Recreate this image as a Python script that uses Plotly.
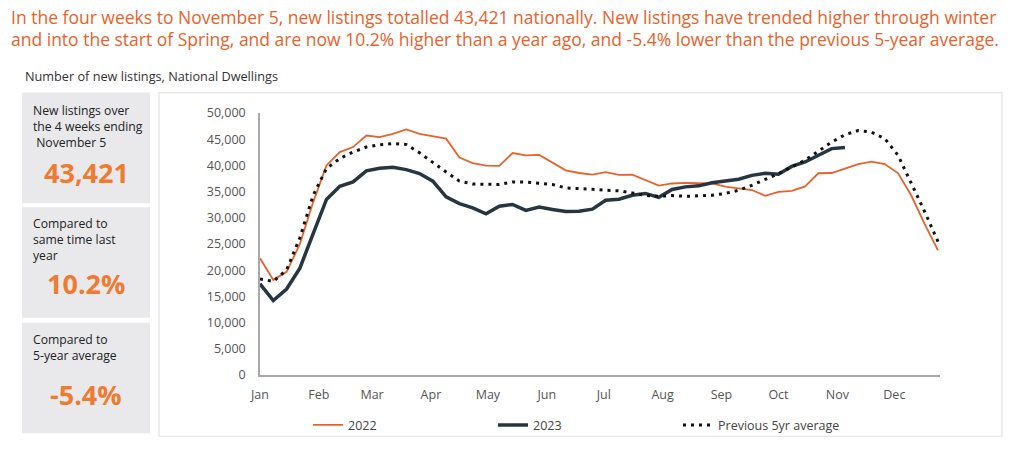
import plotly.graph_objects as go

months = ["Jan", "Feb", "Mar", "Apr", "May", "Jun", "Jul", "Aug", "Sep", "Oct", "Nov", "Dec"]
month_start_day = [0, 31, 59, 90, 120, 151, 181, 212, 243, 273, 304, 334]

v2022 = [22300, 18150, 19700, 25000, 33000, 40000, 42550, 43500, 45700, 45400, 46000, 46850,
         46000, 45600, 45100, 41500, 40450, 39950, 39900, 42350, 41900, 42000, 40500, 39050,
         38550, 38250, 38700, 38200, 38250, 37150, 36150, 36550, 36650, 36600, 36550, 35950,
         35600, 35300, 34200, 34950, 35150, 36000, 38500, 38550, 39400, 40250, 40700, 40250,
         38500, 34200, 28800, 23800]
v2023 = [17400, 14200, 16400, 20400, 27000, 33500, 36000, 36850, 38950, 39450, 39650, 39200,
         38450, 37000, 34000, 32700, 31900, 30750, 32200, 32550, 31400, 32050, 31600, 31200,
         31250, 31650, 33350, 33550, 34300, 34650, 33900, 35400, 35900, 36100, 36700, 37050,
         37350, 38100, 38500, 38300, 39800, 40650, 41900, 43200, 43421]
avg5 = [18350, 17850, 20050, 26200, 34300, 39400, 41300, 42550, 43500, 43950, 44150, 44000,
        42400, 40500, 38750, 37000, 36450, 36400, 36350, 36850, 36800, 36600, 36350, 35700,
        35600, 35450, 35250, 35150, 34750, 34300, 34100, 34250, 34100, 34250, 34300, 34650,
        35250, 36200, 37250, 38450, 39700, 41000, 42700, 44450, 45850, 46650, 46350, 45100,
        41900, 36550, 31150, 25450]

title_lines = ["In the four weeks to November 5, new listings totalled 43,421 nationally. New listings have trended higher through winter",
               "and into the start of Spring, and are now 10.2% higher than a year ago, and -5.4% lower than the previous 5-year average."]
subtitle = "Number of new listings, National Dwellings"
box_labels = ["New listings over<br>the 4 weeks ending<br>\u00a0November 5",
              "Compared to<br>same time last<br>year",
              "Compared to<br>5-year average"]
box_values = ["43,421", "10.2%", "-5.4%"]

W, H = 1024, 453
L, R, T, B = 260, 940, 112.5, 375.5
FONT = "Open Sans"
ORANGE = "#E8622C"
NUM_ORANGE = "#F07A30"
DARK = "#263640"

def fx(px):
    return (px - L) / (R - L)

def fy(py):
    return (B - py) / (B - T)

weeks = list(range(len(v2022)))
weeks23 = list(range(len(v2023)))

fig = go.Figure()
fig.add_trace(go.Scatter(x=weeks, y=v2022, mode="lines", name="2022",
                         line=dict(color=ORANGE, width=1.8)))
fig.add_trace(go.Scatter(x=weeks23, y=v2023, mode="lines", name="2023",
                         line=dict(color=DARK, width=3.5)))
fig.add_trace(go.Scatter(x=weeks, y=avg5, mode="lines", name="Previous 5yr average",
                         line=dict(color="#111111", width=3, dash="3px,5px")))

shapes = []
# chart frame
shapes.append(dict(type="rect", xref="paper", yref="paper", x0=fx(159), x1=fx(1002), y0=fy(437), y1=fy(92),
                   line=dict(color="#E2E2E2", width=1.2), fillcolor="rgba(0,0,0,0)", layer="below"))
boxes = [(92, 203), (207, 318), (323, 434)]
for (y0, y1) in boxes:
    shapes.append(dict(type="rect", xref="paper", yref="paper", x0=fx(22), x1=fx(150), y0=fy(y1), y1=fy(y0),
                       line=dict(width=0), fillcolor="#E9E9EC", layer="below"))

annotations = []
for line, ly in zip(title_lines, [16, 38]):
    annotations.append(dict(text=line, xref="paper", yref="paper",
                            x=fx(9), y=fy(ly), xanchor="left", yanchor="middle", align="left", showarrow=False,
                            font=dict(family=FONT, size=17.5, color=ORANGE)))
annotations.append(dict(text=subtitle, xref="paper", yref="paper", x=fx(23), y=fy(75), xanchor="left",
                        yanchor="middle", showarrow=False, font=dict(family=FONT, size=12.7, color="#333333")))
label_tops = [99, 213, 329]
value_ys = [172, 284, 395]
for lab, top, val, vy in zip(box_labels, label_tops, box_values, value_ys):
    annotations.append(dict(text=lab, xref="paper", yref="paper", x=fx(31), y=fy(top), xanchor="left",
                            yanchor="top", align="left", showarrow=False,
                            font=dict(family=FONT, size=12.2, color="#222222")))
    annotations.append(dict(text="<b>" + val + "</b>", xref="paper", yref="paper", x=fx(86), y=fy(vy),
                            xanchor="center", yanchor="middle", showarrow=False,
                            font=dict(family=FONT, size=27, color=NUM_ORANGE)))

fig.update_layout(
    width=W, height=H,
    margin=dict(l=L, r=W - R, t=T, b=H - B, pad=0),
    paper_bgcolor="white", plot_bgcolor="white",
    showlegend=True,
    legend=dict(orientation="h", x=fx(308), y=fy(426), xanchor="left", yanchor="middle",
                entrywidth=140, entrywidthmode="pixels",
                font=dict(family=FONT, size=12.5, color="#444444"), bgcolor="rgba(0,0,0,0)"),
    shapes=shapes, annotations=annotations,
    font=dict(family=FONT),
)
fig.update_xaxes(range=[0, 51.15], tickmode="array",
                 tickvals=[d / 7 for d in month_start_day], ticktext=months,
                 showgrid=False, zeroline=False, showline=True, linecolor="#A8A8A8", linewidth=1.5,
                 ticks="", ticklabelstandoff=7,
                 tickfont=dict(family=FONT, size=12.5, color="#555555"), fixedrange=True)
fig.update_yaxes(range=[0, 50000], tickmode="array", tickvals=list(range(0, 50001, 5000)),
                 tickformat=",d", showgrid=False, zeroline=False, showline=True, linecolor="#A8A8A8",
                 linewidth=1.5, ticks="", ticklabelstandoff=10,
                 tickfont=dict(family=FONT, size=12.5, color="#555555"), fixedrange=True)

fig.write_html("out.html", config={"displayModeBar": False})
